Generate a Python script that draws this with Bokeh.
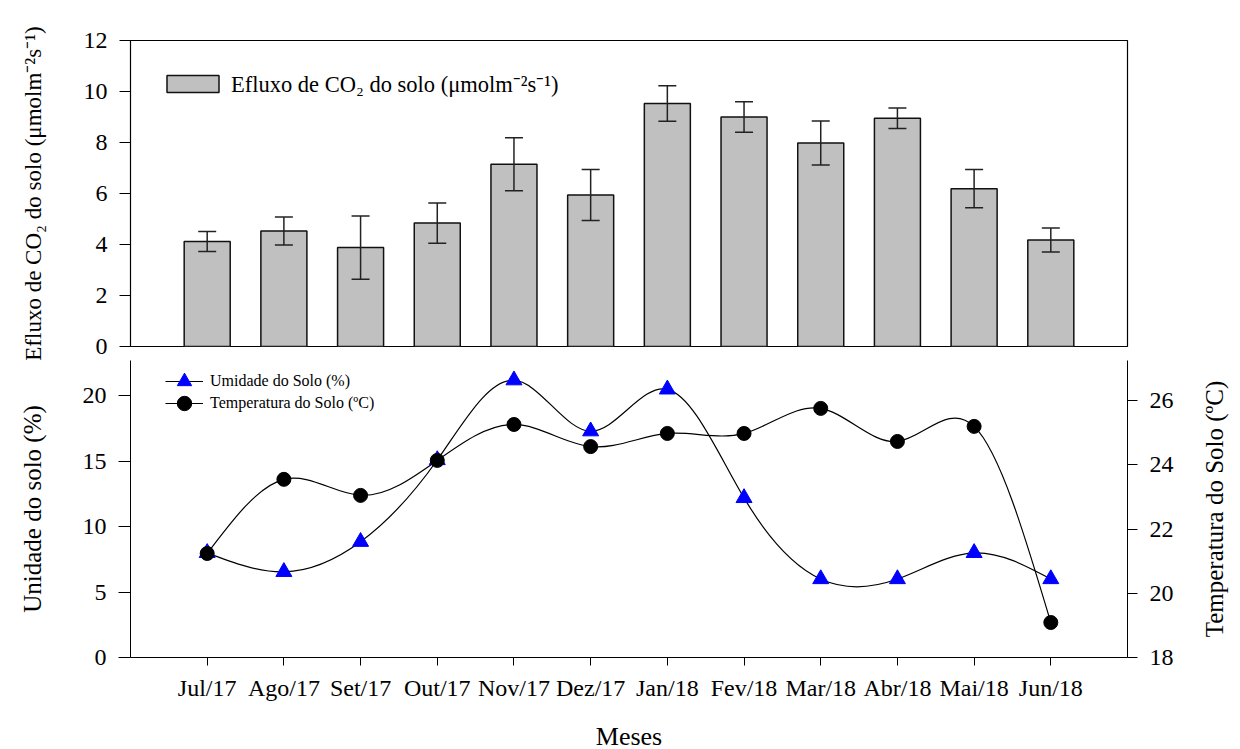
import numpy as np
from bokeh.plotting import figure
from bokeh.layouts import column, row
from bokeh.models import (Range1d, LinearAxis, FixedTicker, Whisker, TeeHead, ColumnDataSource,
                          Legend, LegendItem, CustomJSTickFormatter)
from bokeh.embed import file_html
from bokeh.resources import INLINE

# ---------------- data ----------------
months = ["Jul/17", "Ago/17", "Set/17", "Out/17", "Nov/17", "Dez/17",
          "Jan/18", "Fev/18", "Mar/18", "Abr/18", "Mai/18", "Jun/18"]
efluxo = [4.12, 4.53, 3.88, 4.84, 7.15, 5.94, 9.53, 9.00, 7.98, 8.95, 6.19, 4.18]
efluxo_err = [0.39, 0.55, 1.24, 0.79, 1.04, 1.00, 0.70, 0.60, 0.86, 0.40, 0.75, 0.47]
umidade = [8.0, 6.55, 8.85, 15.1, 21.2, 17.3, 20.5, 12.2, 6.0, 6.0, 8.0, 6.0]
temperatura = [21.24, 23.55, 23.05, 24.14, 25.26, 24.57, 24.98, 24.98, 25.76, 24.73, 25.2, 19.09]
efluxo_ticks = [0, 2, 4, 6, 8, 10, 12]
umidade_ticks = [0, 5, 10, 15, 20]
temp_ticks = [18, 20, 22, 24, 26]

FONT = "Liberation Serif"
x = np.arange(1, len(months) + 1, dtype=float)
xr = Range1d(0, 13)

BOTTOM_H = 297
BOTTOM_B = 89
HUM_END = BOTTOM_H / 13.08
TEMP_END = 18.0 + BOTTOM_H / 32.1


def style_axis(ax, out, standoff=12):
    ax.axis_line_color = "black"
    ax.axis_line_width = 1
    ax.major_tick_line_color = "black"
    ax.major_tick_out = out
    ax.major_tick_in = 0
    ax.minor_tick_out = 0
    ax.minor_tick_in = 0
    ax.major_label_text_font = FONT
    ax.major_label_text_font_size = "24px"
    ax.major_label_text_color = "black"
    ax.major_label_standoff = standoff
    ax.axis_label_text_font = FONT
    ax.axis_label_text_font_style = "normal"
    ax.axis_label_text_color = "black"


# ================= top panel: bars =================
p1 = figure(frame_width=997, frame_height=306, x_range=xr, y_range=Range1d(0, 12),
            output_backend="svg", toolbar_location=None,
            min_border_left=130, min_border_right=110, min_border_top=40, min_border_bottom=14)
p1.xgrid.visible = False
p1.ygrid.visible = False
p1.xaxis.visible = False
p1.outline_line_color = "black"
p1.outline_line_width = 1.2

src = ColumnDataSource(dict(x=x, top=efluxo,
                            upper=np.array(efluxo) + np.array(efluxo_err),
                            lower=np.array(efluxo) - np.array(efluxo_err)))
bars = p1.vbar(x="x", top="top", bottom=0, width=0.6, source=src,
               fill_color="#c0c0c0", line_color="#111111", line_width=1.5)
p1.add_layout(Whisker(base="x", upper="upper", lower="lower", source=src, level="overlay",
                      line_color="#222222", line_width=1.5,
                      upper_head=TeeHead(size=18, line_color="#222222", line_width=1.5),
                      lower_head=TeeHead(size=18, line_color="#222222", line_width=1.5)))

ya1 = p1.yaxis[0]
ya1.ticker = FixedTicker(ticks=efluxo_ticks)
style_axis(ya1, 11)
ya1.axis_label = "Efluxo de CO\u2082 do solo (\u03bcmolm\u207b\u00b2s\u207b\u00b9)"
ya1.axis_label_text_font_size = "23px"
ya1.axis_label_standoff = 35

leg1 = Legend(items=[LegendItem(label="Efluxo de CO\u2082 do solo (\u03bcmolm\u207b\u00b2s\u207b\u00b9)",
                                renderers=[bars])],
              location=(30, 247), glyph_width=65, glyph_height=21, label_standoff=6,
              padding=0, spacing=0, margin=0, border_line_alpha=0, background_fill_alpha=0,
              label_text_font=FONT, label_text_font_size="22.5px", label_text_color="black")
p1.add_layout(leg1)


# ================= bottom panel: curves =================
p2 = figure(frame_width=997, frame_height=BOTTOM_H, x_range=xr, y_range=Range1d(0, HUM_END),
            output_backend="svg", toolbar_location=None,
            min_border_left=130, min_border_right=50, min_border_top=0, min_border_bottom=BOTTOM_B)
p2.extra_y_ranges = {"temp": Range1d(18, TEMP_END)}
p2.xgrid.visible = False
p2.ygrid.visible = False
p2.outline_line_color = None


def spline_segments(xs, ys):
    y = np.asarray(ys, float)
    xs = np.asarray(xs, float)
    n = len(y)
    A = np.zeros((n, n))
    rhs = np.zeros(n)
    A[0, 0] = 1
    A[-1, -1] = 1
    for i in range(1, n - 1):
        A[i, i - 1], A[i, i], A[i, i + 1] = 1, 4, 1
        rhs[i] = 6 * (y[i + 1] - 2 * y[i] + y[i - 1])
    M = np.linalg.solve(A, rhs)
    d = np.empty(n)
    d[:-1] = (y[1:] - y[:-1]) - (2 * M[:-1] + M[1:]) / 6
    d[-1] = (y[-1] - y[-2]) + (M[-2] + 2 * M[-1]) / 6
    return dict(x0=xs[:-1], y0=y[:-1], x1=xs[1:], y1=y[1:],
                cx0=xs[:-1] + 1 / 3, cy0=y[:-1] + d[:-1] / 3,
                cx1=xs[1:] - 1 / 3, cy1=y[1:] - d[1:] / 3)


hb = p2.bezier(source=ColumnDataSource(spline_segments(x, umidade)),
               x0="x0", y0="y0", x1="x1", y1="y1", cx0="cx0", cy0="cy0", cx1="cx1", cy1="cy1",
               line_color="black", line_width=1.2)
tb = p2.bezier(source=ColumnDataSource(spline_segments(x, temperatura)),
               x0="x0", y0="y0", x1="x1", y1="y1", cx0="cx0", cy0="cy0", cx1="cx1", cy1="cy1",
               y_range_name="temp", line_color="black", line_width=1.2)
tri = p2.scatter(x, umidade, marker="triangle", size=16, fill_color="blue", line_color="blue")
cir = p2.scatter(x, temperatura, marker="circle", size=14, fill_color="black", line_color="black",
                 y_range_name="temp")

ya2 = p2.yaxis[0]
ya2.ticker = FixedTicker(ticks=umidade_ticks)
style_axis(ya2, 12)
ya2.axis_label = "Unidade do solo (%)"
ya2.axis_label_text_font_size = "25px"
ya2.axis_label_standoff = 34

yr = LinearAxis(y_range_name="temp", ticker=FixedTicker(ticks=temp_ticks))
style_axis(yr, 10)
p2.add_layout(yr, "right")

xa = p2.xaxis[0]
xa.ticker = FixedTicker(ticks=list(x))
xa.formatter = CustomJSTickFormatter(args=dict(labs=months),
                                     code="return labs[Math.round(tick) - 1];")
style_axis(xa, 8, standoff=9)
xa.axis_label = "Meses"
xa.axis_label_text_font_size = "26px"
xa.axis_label_standoff = 18

common = dict(glyph_width=38, glyph_height=36, label_standoff=7, padding=0, spacing=0, margin=0,
              border_line_alpha=0, background_fill_alpha=0,
              label_text_font=FONT, label_text_font_size="16px", label_text_color="black")
# legend rows centred 21 and 43 px below the panel top
p2.add_layout(Legend(items=[LegendItem(label="Umidade do Solo (%)", renderers=[hb, tri])],
                     location=(35, BOTTOM_H - 21 - 18), **common))
p2.add_layout(Legend(items=[LegendItem(label="Temperatura do Solo (\u00baC)", renderers=[tb, cir])],
                     location=(35, BOTTOM_H - 43 - 18), **common))

# ====== narrow strip carrying the right-hand axis title (reads bottom to top) ======
p3 = figure(frame_width=2, frame_height=BOTTOM_H, x_range=Range1d(0, 1), y_range=Range1d(18, TEMP_END),
            output_backend="svg", toolbar_location=None,
            min_border_left=55, min_border_right=0, min_border_top=0, min_border_bottom=BOTTOM_B)
p3.xaxis.visible = False
p3.xgrid.visible = False
p3.ygrid.visible = False
p3.outline_line_color = None
ya3 = p3.yaxis[0]
ya3.ticker = FixedTicker(ticks=[])
ya3.axis_line_color = None
ya3.major_tick_out = 0
ya3.minor_tick_out = 0
ya3.axis_label = "Temperatura do Solo (\u00baC)"
ya3.axis_label_text_font = FONT
ya3.axis_label_text_font_style = "normal"
ya3.axis_label_text_color = "black"
ya3.axis_label_text_font_size = "25px"
ya3.axis_label_standoff = 5

layout = column(p1, row(p2, p3, spacing=0), spacing=0)
open("out.html", "w").write(file_html(layout, INLINE))
